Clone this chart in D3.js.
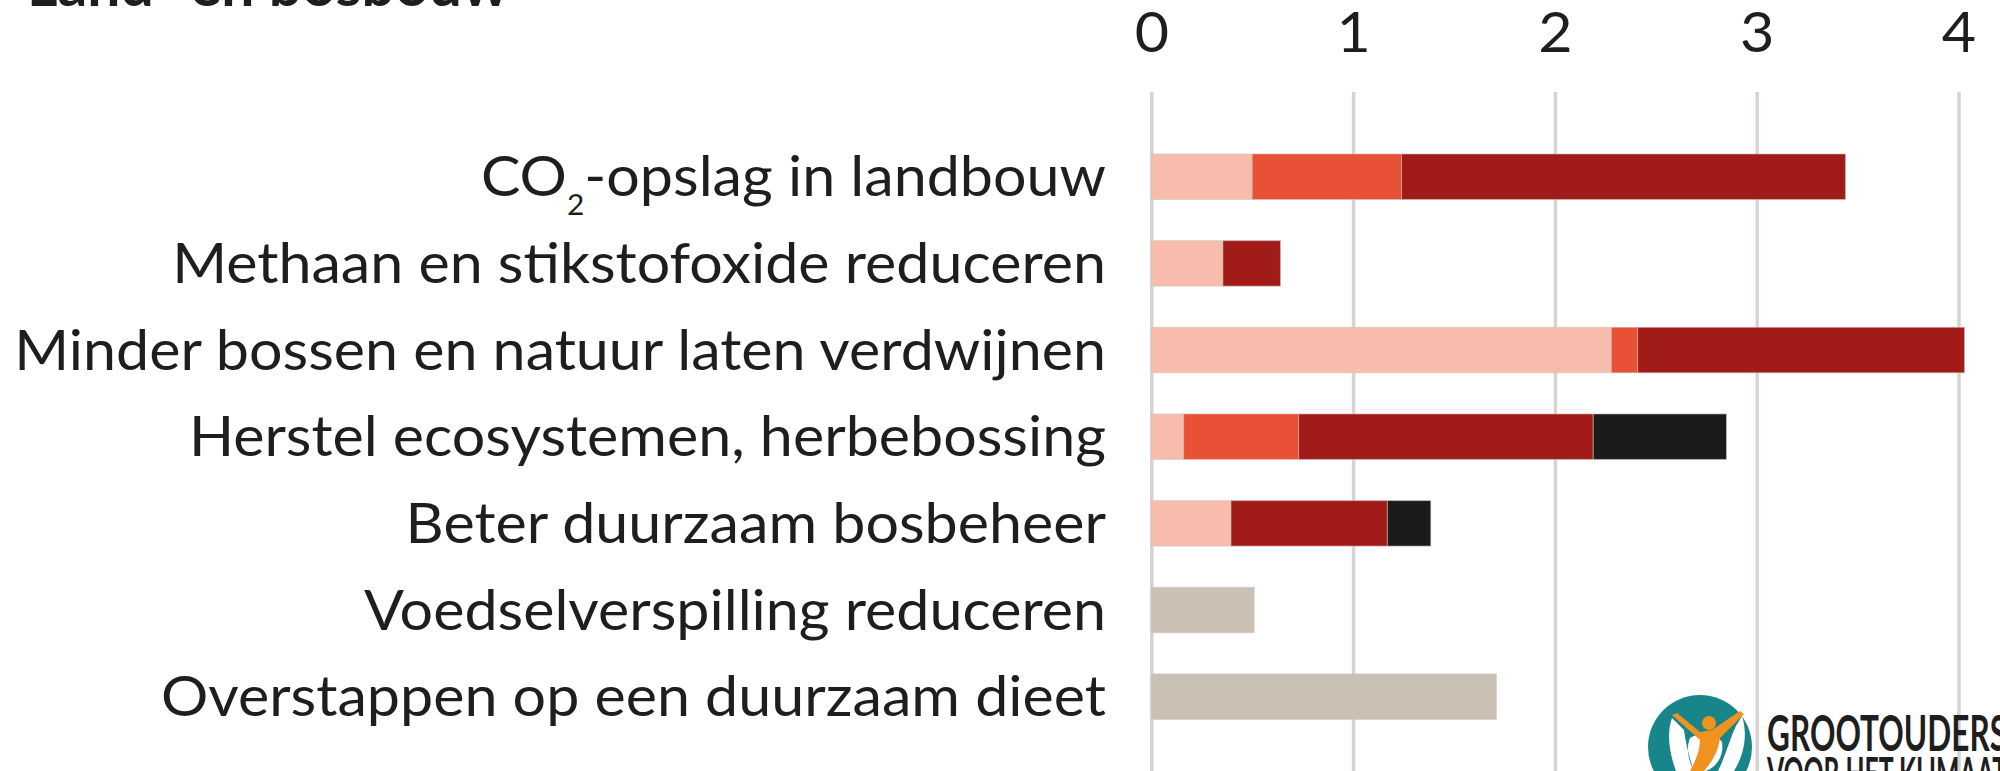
<!DOCTYPE html>
<html>
<head>
<meta charset="utf-8">
<script src="https://cdn.jsdelivr.net/npm/d3@7"></script>
<style>
  html, body { margin: 0; padding: 0; background: #ffffff; }
  svg { display: block; }
  text { font-family: Lato, "Open Sans", sans-serif; fill: #1e1e1e; }
</style>
</head>
<body>
<svg id="chart" width="2000" height="771"></svg>
<script>
// ---- data ----
const title = "Land- en bosbouw";
const categories = [
  "CO₂-opslag in landbouw",
  "Methaan en stikstofoxide reduceren",
  "Minder bossen en natuur laten verdwijnen",
  "Herstel ecosystemen, herbebossing",
  "Beter duurzaam bosbeheer",
  "Voedselverspilling reduceren",
  "Overstappen op een duurzaam dieet"
];
const seriesKeys = ["0–20 USD", "20–50 USD", "50–100 USD", "100–200 USD", "kosten onbekend"];
const seriesColors = ["#f7bcab", "#e85135", "#a11c19", "#1b1b1b", "#cbc0b4"];
const cost0to20    = [0.50, 0.355, 2.28, 0.16, 0.395, 0,    0];
const cost20to50   = [0.74, 0,     0.13, 0.57, 0,     0,    0];
const cost50to100  = [2.20, 0.285, 1.62, 1.46, 0.775, 0,    0];
const cost100to200 = [0,    0,     0,    0.66, 0.215, 0,    0];
const costUnknown  = [0,    0,     0,    0,    0,     0.51, 1.71];
const tickValues = [0, 1, 2, 3, 4];

// ---- build table ----
const seriesValues = [cost0to20, cost20to50, cost50to100, cost100to200, costUnknown];
const table = categories.map((c, i) => {
  const row = { category: c };
  seriesKeys.forEach((k, j) => { row[k] = seriesValues[j][i]; });
  return row;
});

const svg = d3.select("#chart");
const W = 2000, H = 771;
const FS = 55.5;

const x = d3.scaleLinear().domain([0, 4]).range([1151.3, 1958.5]);
const y = d3.scaleBand().domain(categories).range([133.4, 740])
  .paddingInner(0.475).paddingOuter(0.2375);
const color = d3.scaleOrdinal().domain(seriesKeys).range(seriesColors);

// category labels (measured first to get a horizontal condensing factor)
const labelRight = 1106;
const labels = svg.append("g").selectAll("text").data(categories).join("text")
  .attr("x", 0).attr("y", 0)
  .attr("text-anchor", "end")
  .attr("font-size", FS);
labels.each(function(d) {
  const t = d3.select(this);
  const parts = d.split("₂");
  if (parts.length > 1) {
    t.append("tspan").text(parts[0]);
    t.append("tspan").text("2").attr("font-size", 28).attr("dy", 19);
    t.append("tspan").text(parts[1]).attr("dy", -19);
  } else {
    t.text(d);
  }
});
let maxW = 0;
labels.each(function() { maxW = Math.max(maxW, this.getComputedTextLength()); });
const k = 1092 / maxW;
labels.attr("transform", d => `translate(${labelRight},${y(d) + y.bandwidth() / 2 + 19.5}) scale(${k},1)`);

// gridlines + tick labels
const axisTop = 92;
const axis = d3.axisTop(x).tickValues(tickValues).tickFormat(d3.format("d"))
  .tickSizeInner(-(H - axisTop)).tickSizeOuter(0).tickPadding(40);
const gAxis = svg.insert("g", ":first-child").attr("transform", `translate(0,${axisTop})`).call(axis);
gAxis.select(".domain").remove();
gAxis.selectAll(".tick line").attr("stroke", "#d6d3d0").attr("stroke-width", 3.5);
gAxis.selectAll(".tick text")
  .attr("font-family", "Lato, sans-serif").attr("font-size", FS)
  .attr("fill", "#1e1e1e").attr("transform", `scale(${k},1)`);

// stacked bars
const stacked = d3.stack().keys(seriesKeys)(table);
svg.append("g").selectAll("g").data(stacked).join("g")
  .attr("fill", d => color(d.key))
  .selectAll("rect").data(d => d.filter(s => s[1] - s[0] > 0)).join("rect")
  .attr("x", d => x(d[0]))
  .attr("width", d => x(d[1]) - x(d[0]))
  .attr("y", d => y(d.data.category))
  .attr("height", y.bandwidth())
  .attr("stroke", "rgba(200,196,192,0.55)")
  .attr("stroke-width", 1);

// title (mostly cut off at top)
const tTitle = svg.append("text").text(title)
  .attr("x", 27).attr("y", 6).attr("font-size", 58).style("font-weight", 700);
const tw = tTitle.node().getComputedTextLength();
tTitle.attr("font-size", 58 * 482 / tw);

// logo
const logo = svg.append("g");
logo.append("rect").attr("x", 1644).attr("y", 690).attr("width", 110).attr("height", 81).attr("fill", "#fff");
logo.append("circle").attr("cx", 1700).attr("cy", 747).attr("r", 52).attr("fill", "#17858a");
logo.append("path").attr("fill", "#ffffff")
  .attr("d", "M1672,718 C1666,735 1670,755 1676,771 L1694,771 C1690,760 1686,745 1684,730 Z M1742,716 C1748,735 1744,755 1734,771 L1718,771 C1726,755 1730,738 1736,726 Z M1690,738 C1700,732 1716,732 1722,742 C1724,755 1718,766 1706,771 L1694,771 C1688,760 1686,748 1690,738 Z");
logo.append("path").attr("fill", "#f0931e")
  .attr("d", "M1672,715 L1677,713 L1700,732 L1712,730 L1740,711 L1744,714 L1720,738 C1718,752 1712,762 1704,771 L1690,771 C1696,760 1700,750 1700,740 Z");
logo.append("circle").attr("cx", 1709).attr("cy", 723).attr("r", 7).attr("fill", "#f0931e");
logo.append("text").text("GROOTOUDERS")
  .attr("x", 1767).attr("y", 751)
  .attr("font-family", "'Liberation Sans Narrow', 'Liberation Sans', sans-serif")
  .style("font-weight", 700).attr("font-size", 50).attr("fill", "#17858a")
  .attr("textLength", 240).attr("lengthAdjust", "spacingAndGlyphs");
logo.append("text").text("VOOR HET KLIMAAT")
  .attr("x", 1767).attr("y", 789)
  .attr("font-family", "'Liberation Sans Narrow', 'Liberation Sans', sans-serif")
  .style("font-weight", 700).attr("font-size", 44).attr("fill", "#17858a")
  .attr("textLength", 240).attr("lengthAdjust", "spacingAndGlyphs");
</script>
</body>
</html>
